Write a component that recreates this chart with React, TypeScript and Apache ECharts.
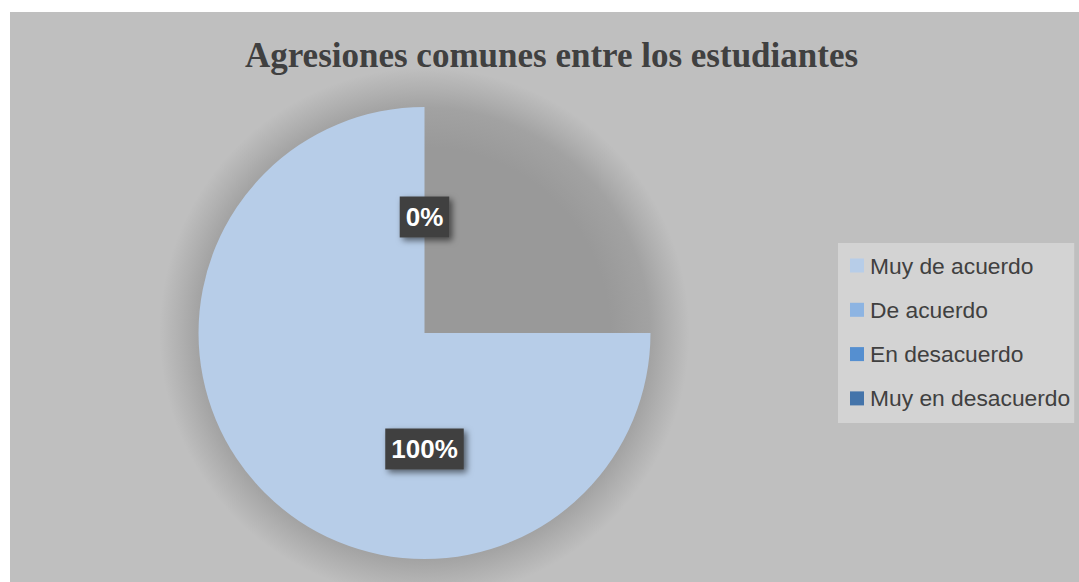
import React, { useEffect, useRef } from "react";
import * as echarts from "echarts";

const titleText = "Agresiones comunes entre los estudiantes";
const categories = ["Muy de acuerdo", "De acuerdo", "En desacuerdo", "Muy en desacuerdo"];
const values = [100, 0, 0, 0];
const colors = ["#b7cde8", "#8db4e2", "#558fd0", "#4474aa"];

export default function App() {
  const ref = useRef<HTMLDivElement>(null);

  useEffect(() => {
    if (!ref.current) return;
    const chart = echarts.init(ref.current, undefined, { renderer: "svg" });
    const cx = 424.5;
    const cy = 333;
    const R = 226;
    const data = categories.map((name, i) => ({
      name,
      value: values[i],
      itemStyle: { color: colors[i] },
    }));
    chart.setOption({
      animation: false,
      backgroundColor: "#ffffff",
      graphic: [
        {
          type: "rect",
          z: 0,
          shape: { x: 10, y: 12, width: 1069, height: 570 },
          style: { fill: "#bfbfbf" },
          silent: true,
        },
        {
          type: "circle",
          z: 1,
          shape: { cx, cy, r: 265 },
          style: {
            fill: {
              type: "radial",
              x: 0.5,
              y: 0.5,
              r: 0.5,
              colorStops: [
                { offset: 0, color: "#999999" },
                { offset: 0.7, color: "#999999" },
                { offset: 0.85, color: "#a2a2a2" },
                { offset: 0.92, color: "#b0b0b0" },
                { offset: 1, color: "#bfbfbf" },
              ],
            },
          },
          silent: true,
        },
        {
          type: "text",
          z: 5,
          x: 551.5,
          y: 55,
          style: {
            text: titleText,
            fill: "#404040",
            font: "bold 35px 'Liberation Serif', 'Times New Roman', serif",
            align: "center",
            verticalAlign: "middle",
          },
        },
      ],
      legend: {
        orient: "vertical",
        left: 838,
        top: 243,
        backgroundColor: "#d3d3d3",
        padding: [11, 4, 13, 12],
        itemWidth: 14,
        itemHeight: 14,
        itemGap: 21.3,
        icon: "rect",
        textStyle: {
          color: "#404040",
          fontSize: 22.8,
          fontFamily: "'Liberation Sans', Arial, sans-serif",
          padding: [0, 0, 0, 1],
        },
        data: categories.map((name, i) => ({ name, itemStyle: { color: colors[i] } })),
      },
      series: [
        {
          type: "pie",
          z: 2,
          center: [cx, cy],
          radius: [0, R],
          startAngle: 0,
          endAngle: -270,
          clockwise: true,
          silent: true,
          label: { show: false },
          labelLine: { show: false },
          data,
        },
        {
          type: "pie",
          z: 3,
          center: [cx, cy],
          radius: [0, R],
          startAngle: 90,
          clockwise: true,
          silent: true,
          itemStyle: { color: "rgba(0,0,0,0)", borderWidth: 0 },
          labelLine: { show: false },
          label: {
            show: true,
            position: "inside",
            formatter: "{d}%",
            color: "#ffffff",
            fontSize: 26,
            fontWeight: "bold",
            fontFamily: "'Liberation Sans', Arial, sans-serif",
            backgroundColor: "#404040",
            padding: [8, 6, 7, 6],
            shadowBlur: 6,
            shadowOffsetX: 3,
            shadowOffsetY: 3,
            shadowColor: "rgba(0,0,0,0.55)",
          },
          data: categories.map((name, i) => ({ name, value: values[i] })),
        },
      ],
    });
    return () => chart.dispose();
  }, []);

  return (
    <div
      ref={ref}
      style={{ position: "absolute", left: 0, top: 0, width: 1079, height: 582 }}
    />
  );
}
